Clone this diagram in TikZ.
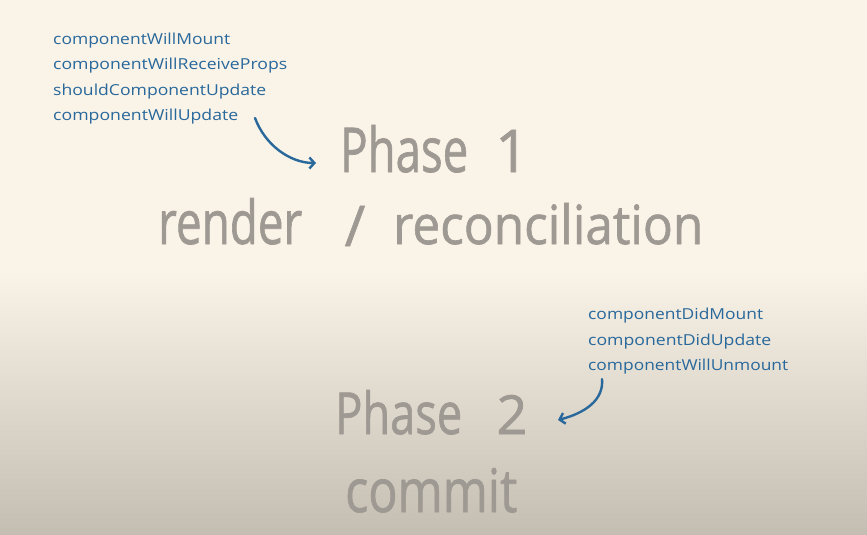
\documentclass[tikz,border=0pt]{standalone}
\usepackage{fontspec}
\setmainfont{Open Sans}
\newfontfamily\heavyfont[FakeBold=1.2]{Open Sans}
\usetikzlibrary{arrows.meta}
\definecolor{bgtop}{RGB}{250,243,232}
\definecolor{bgbot}{RGB}{196,189,178}
\definecolor{phasegray}{RGB}{158,153,146}
\definecolor{hookblue}{RGB}{40,104,155}
\newcommand{\fitto}[3]{\resizebox{#1pt}{#2pt}{#3}}
\newcommand{\fith}[2]{\resizebox{!}{#1pt}{#2}}
\tikzset{
  big/.style={anchor=base west, inner sep=0pt, text=phasegray, font=\heavyfont},
  bigc/.style={anchor=base, inner sep=0pt, text=phasegray, font=\heavyfont},
  meth/.style={anchor=base west, inner sep=0pt, text=hookblue},
  hook/.style={draw=hookblue, line width=2.4pt, line cap=round,
    -{Straight Barb[length=5pt,width=11pt,line width=2.4pt]}}
}
\begin{document}
\begin{tikzpicture}[x=1pt,y=-1pt]
\useasboundingbox (0,0) rectangle (867,535);
\fill[bgtop] (0,0) rectangle (867,535);
\shade[top color=bgtop, bottom color=bgbot] (0,270) rectangle (867,535);

% lifecycle methods, phase 1
\node[meth] (m1) at (53,45) {\fitto{177}{11.5}{componentWillMount}};
\node[meth] (m2) at (53,70) {\fitto{234}{11.5}{componentWillReceiveProps}};
\node[meth] (m3) at (53,95) {\fitto{213}{11.5}{shouldComponentUpdate}};
\node[meth] (m4) at (53,120) {\fitto{185}{11.5}{componentWillUpdate}};

% phase 1
\node[big] (p1a) at (340,172) {\fitto{128}{47}{Phase}};
\node[bigc] (p1b) at (512,172) {\fith{42}{1}};
\node[big] (r1a) at (158,244) {\fitto{144}{46}{render}};
\node[bigc] (r1b) at (355,246) {\fith{40}{/}};
\node[big] (r1c) at (393,244) {\fitto{310}{41}{reconciliation}};

% lifecycle methods, phase 2
\node[meth] (n1) at (588,319) {\fitto{175}{11.5}{componentDidMount}};
\node[meth] (n2) at (588,345) {\fitto{183}{11.5}{componentDidUpdate}};
\node[meth] (n3) at (588,370) {\fitto{200}{11.5}{componentWillUnmount}};

% phase 2
\node[big] (p2a) at (335,434) {\fitto{127}{44}{Phase}};
\node[bigc] (p2b) at (512,434) {\fith{39}{2}};
\node[big] (c2) at (345,512) {\fitto{172}{44}{commit}};

% arrows
\coordinate (a1s) at (255,118);
\coordinate (a1e) at (316,163);
\coordinate (a2s) at (602,379);
\coordinate (a2e) at (558,420);
\draw[hook] (a1s) .. controls (265,145) and (290,163) .. (a1e);
\draw[hook] (a2s) .. controls (604,400) and (585,413) .. (a2e);
\end{tikzpicture}
\end{document}
